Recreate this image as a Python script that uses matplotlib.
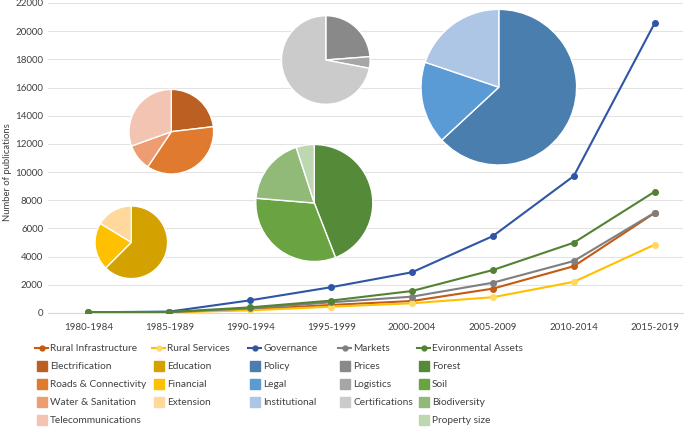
import matplotlib
matplotlib.use("Agg")
import matplotlib.pyplot as plt
from matplotlib.lines import Line2D

plt.rcParams['font.family'] = ['Lato', 'DejaVu Sans']

periods = ['1980-1984', '1985-1989', '1990-1994', '1995-1999',
           '2000-2004', '2005-2009', '2010-2014', '2015-2019']

rural_infra = [30, 60, 260, 570, 850, 1730, 3320, 7100]
rural_serv = [20, 40, 190, 450, 690, 1120, 2210, 4850]
governance = [50, 100, 900, 1830, 2890, 5460, 9720, 20570]
markets = [30, 60, 320, 760, 1160, 2150, 3690, 7120]
environment = [40, 70, 400, 880, 1560, 3050, 4990, 8610]

# pie shares (%)
infra_labels = ['Electrification', 'Roads & Connectivity', 'Water & Sanitation', 'Telecommunications']
infra_share = [23.1, 36.3, 10.1, 30.5]
serv_labels = ['Education', 'Financial', 'Extension']
serv_share = [62.5, 21.2, 16.3]
gov_labels = ['Policy', 'Legal', 'Institutional']
gov_share = [63.1, 17.1, 19.8]
mkt_labels = ['Prices', 'Logistics', 'Certifications']
mkt_share = [23.8, 4.2, 72.0]
env_labels = ['Forest', 'Soil', 'Biodiversity', 'Property size']
env_share = [44.1, 32.2, 18.7, 5.0]

W, H = 685, 430
fig = plt.figure(figsize=(W / 100, H / 100), dpi=100)

def px(x0, y0, x1, y1):
    # pixel box (top-left origin) -> figure fraction rect
    return [x0 / W, 1 - y1 / H, (x1 - x0) / W, (y1 - y0) / H]

ax = fig.add_axes(px(48, 3, 683, 313))
xs = range(len(periods))

series = [
    ('Rural Infrastructure', rural_infra, '#C55A11', '#C55A11'),
    ('Rural Services', rural_serv, '#FFC000', '#FFD966'),
    ('Governance', governance, '#2F55A4', '#2F55A4'),
    ('Markets', markets, '#7F7F7F', '#7F7F7F'),
    ('Evironmental Assets', environment, '#548235', '#548235'),
]
for name, vals, col, mcol in series:
    ax.plot(xs, vals, color=col, lw=1.5, marker='o', ms=4,
            mfc=mcol, mec=mcol, zorder=3)

ax.set_xlim(-0.5, 7.35)
ax.set_ylim(0, 22000)
ax.set_yticks(range(0, 22001, 2000))
ax.set_xticks(list(xs))
ax.set_xticklabels(periods)
ax.tick_params(length=0, labelsize=7, colors='#404040')
ax.tick_params(axis='x', pad=7)
ax.grid(axis='y', color='#E3E3E3', lw=0.8)
ax.set_axisbelow(True)
for s in ['top', 'right', 'left']:
    ax.spines[s].set_visible(False)
ax.spines['bottom'].set_color('#D9D9D9')
ax.set_ylabel('Number of publications', fontsize=6.8, color='#404040')
ax.yaxis.set_label_coords(-0.056, 0.455)

infra_cols = ['#BB5F22', '#E07A2E', '#EE9C72', '#F4C4B2']
serv_cols = ['#D4A200', '#FFC000', '#FFD89C']
gov_cols = ['#4A7EAF', '#5B9BD5', '#ADC6E5']
mkt_cols = ['#898989', '#A6A6A6', '#CBCBCB']
env_cols = ['#548A38', '#6AA342', '#91BA78', '#BDD7B0']

pies = [
    (infra_share, infra_cols, 171.3, 131.7, 42.3),
    (serv_share, serv_cols, 131.3, 242.3, 36.3),
    (mkt_share, mkt_cols, 325.8, 60.0, 44.3),
    (env_share, env_cols, 314.3, 203.0, 58.5),
    (gov_share, gov_cols, 498.8, 87.2, 77.8),
]
for share, cols, cx, cy, r in pies:
    pa = fig.add_axes(px(cx - r, cy - r, cx + r, cy + r))
    pa.pie(share, colors=cols, startangle=90, counterclock=False,
           wedgeprops=dict(edgecolor='white', linewidth=1))
    pa.set_xlim(-1, 1)
    pa.set_ylim(-1, 1)
    pa.set_aspect('equal')
    pa.axis('off')

# legend, one column per group
groups = [
    (series[0], infra_labels, infra_cols, 35),
    (series[1], serv_labels, serv_cols, 152),
    (series[2], gov_labels, gov_cols, 248),
    (series[3], mkt_labels, mkt_cols, 338),
    (series[4], env_labels, env_cols, 417),
]
for (name, vals, col, mcol), labs, cols, x0 in groups:
    handles = [Line2D([], [], color=col, lw=1.5, marker='o', ms=3.5,
                      mfc=mcol, mec=mcol)]
    handles += [Line2D([], [], ls='none', marker='s', ms=6.5, color=c) for c in cols]
    fig.legend(handles, [name] + labs, loc='upper left',
               bbox_to_anchor=(x0 / W, 1 - 344 / H), frameon=False,
               borderpad=0, borderaxespad=0, fontsize=7.3, labelspacing=0.88,
               handlelength=1.29, handletextpad=0.2, numpoints=1,
               labelcolor='#404040')

fig.savefig('out.png', dpi=100)
